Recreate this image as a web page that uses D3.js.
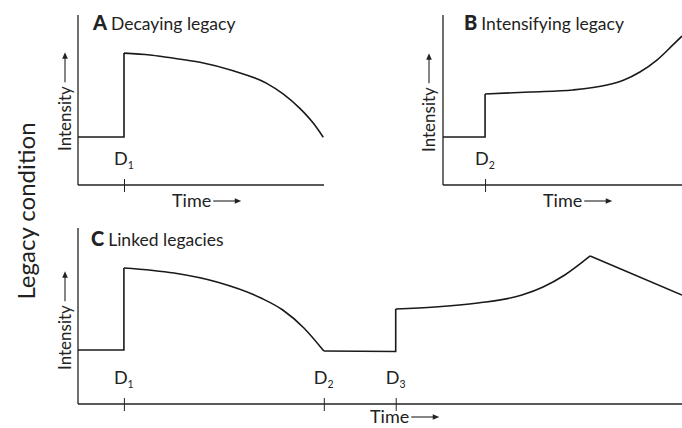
<!DOCTYPE html>
<html><head><meta charset="utf-8">
<script src="https://cdn.jsdelivr.net/npm/d3@7"></script>
<style>
body{margin:0;background:#fff;}
text{font-family:Lato,"Open Sans",sans-serif;fill:#222;}
</style></head>
<body><svg id="c" width="682" height="428"></svg>
<script>
// ---- data (time 0..100, intensity 0..100 in each panel's own units) ----
const panelTitles = [["A","Decaying legacy"],["B","Intensifying legacy"],["C","Linked legacies"]];
const axisLabelY = "Intensity";
const axisLabelX = "Time";
const outerLabel = "Legacy condition";

// Panel A
const aStep = [[0,28.2],[18.7,28.2],[18.7,77.6]];
const aCurve = [[18.7,77.6],[29.3,76.5],[36.1,75.1],[49.6,72.2],[63.1,67.2],[76.7,59.8],[83.5,53.5],[90.2,45.1],[95.7,36.3],[99.7,28.1]];
const aTicks = [{t:18.7,label:"D",sub:"1"}];

// Panel B
const bStep = [[0,28.2],[17.6,28.2],[17.6,53.5]];
const bCurve = [[17.6,53.5],[36.4,54.7],[54.4,55.9],[68.6,58.8],[75.7,61.8],[82.4,66.5],[89.5,73.5],[96.2,82.4],[100,87.6]];
const bTicks = [{t:17.6,label:"D",sub:"2"}];

// Panel C
const cStep1 = [[0,30.7],[7.6,30.7],[7.6,77.3]];
const cCurve1 = [[7.6,77.3],[15.9,74.4],[23,69.3],[30.3,60.2],[33.9,53.4],[37.4,43.2],[40.7,30.1]];
const cStep2 = [[40.7,30.1],[52.6,29.8],[52.6,54]];
const cCurve2 = [[52.6,54],[59.1,55.1],[66.2,57.4],[73.5,61.9],[77,66.5],[80.6,73.3],[84.8,84.1]];
const cStep3 = [[84.8,84.1],[100,61.9]];
const cTicks = [{t:7.6,label:"D",sub:"1"},{t:40.7,label:"D",sub:"2"},{t:52.6,label:"D",sub:"3"}];

const svg = d3.select("#c");

function arrowH(g,x1,x2,y){
  g.append("line").attr("x1",x1).attr("x2",x2-4).attr("y1",y).attr("y2",y).attr("stroke","#222").attr("stroke-width",1.1);
  g.append("path").attr("d",`M${x2},${y}L${x2-6.5},${y-2.8}L${x2-6.5},${y+2.8}Z`).attr("fill","#222");
}

function panel(cfg){
  const x = d3.scaleLinear().domain([0,100]).range([cfg.x0,cfg.x1]);
  const y = d3.scaleLinear().domain([0,100]).range([cfg.y0,cfg.y1]);
  const g = svg.append("g");
  g.append("g").attr("transform",`translate(0,${cfg.y0})`)
    .call(d3.axisBottom(x).tickValues(cfg.ticks.map(d=>d.t)).tickSize(7).tickFormat(""))
    .call(a=>{a.select(".domain").attr("d",`M${cfg.x0},0H${cfg.x1}`).attr("stroke","#222").attr("stroke-width",1.3);
              a.selectAll(".tick line").attr("y1",-6).attr("y2",7).attr("stroke","#222").attr("stroke-width",1);});
  g.append("g").attr("transform",`translate(${cfg.x0},0)`)
    .call(d3.axisLeft(y).tickValues([]).tickSize(0))
    .call(a=>a.select(".domain").attr("d",`M0,${cfg.y0}V${cfg.y1}`).attr("stroke","#222").attr("stroke-width",1.3));
  const lin = d3.line().x(d=>x(d[0])).y(d=>y(d[1]));
  const cur = d3.line().x(d=>x(d[0])).y(d=>y(d[1])).curve(d3.curveMonotoneX);
  cfg.steps.forEach(s=>g.append("path").attr("d",lin(s)).attr("fill","none").attr("stroke","#1a1a1a").attr("stroke-width",1.6));
  cfg.curves.forEach(s=>g.append("path").attr("d",cur(s)).attr("fill","none").attr("stroke","#1a1a1a").attr("stroke-width",1.6));
  cfg.ticks.forEach(d=>{
    const t = g.append("text").attr("x",x(d.t)-10).attr("y",cfg.y0-20).attr("font-size",18);
    t.append("tspan").text(d.label);
    t.append("tspan").attr("dy",4).attr("font-size",10.5).text(d.sub);
  });
  const tt = g.append("text").attr("x",cfg.tx).attr("y",cfg.ty);
  tt.append("tspan").attr("font-size",20).attr("font-weight",900).text(cfg.title[0]);
  tt.append("tspan").attr("dx",4).attr("font-size",17.5).text(cfg.title[1]);
  const xl = g.append("text").attr("x",cfg.timeX).attr("y",cfg.timeY).attr("font-size",18).text(axisLabelX);
  const w = xl.node().getComputedTextLength();
  arrowH(g,cfg.timeX+w+2,cfg.timeX+w+30,cfg.timeY-6);
  const yg = g.append("g").attr("transform",`translate(${cfg.ilx},${cfg.ily}) rotate(-90)`);
  const yl = yg.append("text").attr("x",0).attr("y",0).attr("font-size",17).text(axisLabelY);
  const w2 = yl.node().getComputedTextLength();
  arrowH(yg,w2+4,w2+34,-6);
}

panel({x0:78,x1:324,y0:185,y1:15,steps:[aStep],curves:[aCurve],ticks:aTicks,title:panelTitles[0],tx:93,ty:30,timeX:172,timeY:207,ilx:71,ily:151});
panel({x0:443,x1:682,y0:185,y1:15,steps:[bStep],curves:[bCurve],ticks:bTicks,title:panelTitles[1],tx:464,ty:30,timeX:543,timeY:207,ilx:435,ily:152});
panel({x0:78,x1:682,y0:404,y1:228,steps:[cStep1,cStep2,cStep3],curves:[cCurve1,cCurve2],ticks:cTicks,title:panelTitles[2],tx:91,ty:246,timeX:370,timeY:423,ilx:71,ily:370});

svg.append("text").attr("transform","translate(35,211) rotate(-90)").attr("text-anchor","middle")
  .attr("font-size",24).text(outerLabel);
</script></body></html>
